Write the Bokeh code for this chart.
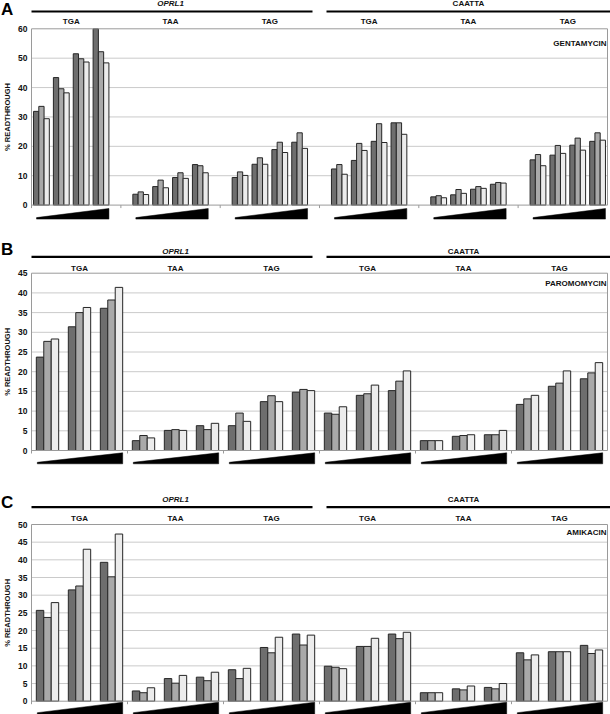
import math
from bokeh.plotting import figure
from bokeh.layouts import column
from bokeh.models import Range1d
from bokeh.core.properties import value
from bokeh.embed import file_html
from bokeh.resources import INLINE

# ---------------- data ----------------
constructs = ["OPRL1", "CAATTA"]
codons = ["TGA", "TAA", "TAG"]
drugs = ["GENTAMYCIN", "PAROMOMYCIN", "AMIKACIN"]
letters = ["A", "B", "C"]
y_title = "% READTHROUGH"

# Panel A (gentamycin): 6 groups x 4 increasing doses; three series (dark, mid, light)
gent_dark = [31.9, 43.4, 51.5, 60.0, 3.7, 6.3, 9.4, 13.8, 9.4, 13.9, 18.9, 21.4,
             12.3, 15.2, 21.7, 28.0, 2.8, 3.5, 5.4, 7.1, 15.4, 17.0, 20.4, 21.7]
gent_mid = [33.6, 39.6, 49.8, 52.2, 4.5, 8.5, 11.0, 13.4, 11.3, 16.1, 21.4, 24.6,
            13.8, 21.0, 27.7, 28.0, 3.2, 5.3, 6.3, 7.7, 17.2, 20.3, 22.8, 24.6]
gent_light = [29.4, 38.2, 48.7, 48.4, 3.6, 5.9, 9.1, 11.0, 10.1, 13.9, 17.9, 19.3,
              10.5, 18.6, 21.3, 24.1, 2.5, 4.0, 5.7, 7.5, 13.4, 17.6, 18.7, 22.1]

# Panel B (paromomycin): 6 groups x 3 doses
paro_dark = [23.7, 31.4, 36.1, 2.5, 5.1, 6.3, 6.3, 12.4, 14.8,
             9.5, 14.0, 15.2, 2.5, 3.6, 4.0, 11.7, 16.3, 18.2]
paro_mid = [27.7, 35.0, 38.2, 3.8, 5.3, 5.3, 9.5, 13.9, 15.5,
            9.2, 14.4, 17.6, 2.5, 3.8, 4.0, 13.1, 17.1, 19.7]
paro_light = [28.3, 36.3, 41.4, 3.2, 5.1, 6.9, 7.4, 12.4, 15.2,
              11.1, 16.6, 20.2, 2.5, 4.0, 5.1, 14.0, 20.2, 22.3]

# Panel C (amikacin): 6 groups x 3 doses
amik_dark = [25.7, 31.5, 39.3, 2.9, 6.4, 6.8, 8.9, 15.2, 19.0,
             9.9, 15.5, 19.0, 2.4, 3.5, 3.9, 13.7, 14.0, 15.8]
amik_mid = [23.7, 32.6, 35.2, 2.4, 5.1, 5.8, 6.4, 13.7, 15.9,
            9.6, 15.5, 17.7, 2.4, 3.2, 3.5, 11.7, 14.0, 13.5]
amik_light = [27.9, 43.0, 47.3, 3.8, 7.3, 8.2, 9.3, 18.1, 18.7,
              9.2, 17.8, 19.5, 2.4, 4.3, 5.0, 13.1, 14.0, 14.5]

y_max = [60, 45, 50]
y_step = [10, 5, 5]

# ---------------- style ----------------
FONT = "Liberation Sans"
COLORS = ["#6e6e6e", "#a9a9a9", "#ececec"]
OUTLINE = "#262626"
GRID = "#cacaca"
BORDER = "#9a9a9a"
INK = "#111111"
W = 610
AXIS_X = 31        # px from canvas left to y axis
RIGHT_X = 607      # px from canvas left to right border
PLOT_W = RIGHT_X - AXIS_X


def make_panel(idx, series, n_conc, gap, fig_h, top_off, plot_h, hdr, drug_off,
               bar_w, wedge_px, bar_px_off):
    ymax, step = y_max[idx], y_step[idx]
    ncat = 6 * n_conc + gap * 5
    ppc = PLOT_W / ncat
    s = plot_h / ymax
    px = lambda v: v / s          # px -> y data units
    pxx = lambda v: v / ppc       # px -> x data units

    p = figure(width=W, height=fig_h, output_backend="svg", toolbar_location=None,
               x_range=Range1d(-pxx(AXIS_X), ncat + pxx(W - RIGHT_X)),
               y_range=Range1d(-px(fig_h - top_off - plot_h), ymax + px(top_off)),
               x_axis_type=None, y_axis_type=None, title=None,
               min_border_left=0, min_border_right=0,
               min_border_top=0, min_border_bottom=0)
    p.outline_line_color = None
    p.xgrid.visible = False
    p.ygrid.visible = False

    ticks = list(range(0, ymax + 1, step))
    txt = dict(text_font=value(FONT), text_font_style="bold", text_font_size="8px",
               text_color=INK, text_baseline="middle")

    # gridlines
    gl = ticks[1:-1]
    p.segment(x0=[0] * len(gl), x1=[ncat] * len(gl), y0=gl, y1=gl,
              line_color=GRID, line_width=1)

    # bars
    pitch = n_conc + gap
    for k, vals in enumerate(series):
        xs = [g * pitch + c + 0.5 + (k - 1) * bar_w
              for g in range(6) for c in range(n_conc)]
        p.vbar(x=xs, top=vals, bottom=0, width=bar_w, fill_color=COLORS[k],
               line_color=OUTLINE, line_width=1)

    # frame lines
    p.segment(x0=[0, 0, ncat], x1=[ncat, ncat, ncat], y0=[0, ymax, 0],
              y1=[0, ymax, ymax], line_color=BORDER, line_width=1)
    p.segment(x0=[0], x1=[0], y0=[-px(3)], y1=[ymax], line_color=BORDER, line_width=1)
    seps = [g * pitch - gap * 0.5 for g in range(1, 6)]
    p.segment(x0=seps, x1=seps, y0=[0] * 5, y1=[-px(3)] * 5,
              line_color=BORDER, line_width=1)

    # y tick labels
    p.text(x=[-pxx(4)] * len(ticks), y=ticks, text=[str(t) for t in ticks],
           text_align="right", **dict(txt, text_font_size="8.5px"))

    # dose wedges
    wt, wb = wedge_px
    xs_list, ys_list = [], []
    for g in range(6):
        left = g * pitch + 0.5 - 1.5 * bar_w + pxx(bar_px_off)
        right = g * pitch + n_conc - 0.5 + 1.5 * bar_w
        xs_list.append([left, left, right, right])
        ys_list.append([-px(wb), -px(wb - 1.5), -px(wt), -px(wb)])
    p.patches(xs=xs_list, ys=ys_list, fill_color="black", line_color="black",
              line_width=0.5)

    # header
    text_y, line_y, cod_y, letter_y = hdr
    half = ncat / 2
    p.segment(x0=[0, half + pxx(7)], x1=[half - pxx(7), ncat + pxx(W - RIGHT_X)],
              y0=[ymax + px(line_y)] * 2, y1=[ymax + px(line_y)] * 2,
              line_color="black", line_width=2.2)
    centers = [g * pitch + n_conc / 2 for g in range(6)]
    p.text(x=[centers[1]], y=[ymax + px(text_y)], text=[constructs[0]],
           text_align="center", **dict(txt, text_font_style="bold italic"))
    p.text(x=[centers[4]], y=[ymax + px(text_y)], text=[constructs[1]],
           text_align="center", **txt)
    p.text(x=centers, y=[ymax + px(cod_y)] * 6, text=codons * 2,
           text_align="center", **txt)
    p.text(x=[ncat - pxx(1)], y=[ymax - px(drug_off)], text=[drugs[idx]],
           text_align="right", **txt)

    # panel letter and y-axis title
    p.text(x=[-pxx(AXIS_X - 0.5)], y=[ymax + px(letter_y)], text=[letters[idx]],
           text_align="left", **dict(txt, text_font_size="17px", text_color="black"))
    p.text(x=[-pxx(AXIS_X - 7)], y=[ymax / 2], text=[y_title], angle=math.pi / 2,
           text_align="center", **dict(txt, text_font_size="7.5px"))
    return p


pA = make_panel(0, [gent_dark, gent_mid, gent_light], 4, 1, 236, 28.3, 176.3,
                (25.0, 17.3, 7.6, 19.1), 15.0, 0.265, (3.4, 14.0), 3)
pB = make_panel(1, [paro_dark, paro_mid, paro_light], 3, 0, 252, 36.7, 177.3,
                (22.0, 16.4, 5.0, 23.7), 10.6, 0.233, (2.3, 13.3), 1)
pC = make_panel(2, [amik_dark, amik_mid, amik_light], 3, 0, 226, 36.0, 176.7,
                (25.0, 17.3, 6.3, 22.5), 8.3, 0.233, (1.0, 13.0), 1)

layout = column(pA, pB, pC, spacing=0)
open("out.html", "w").write(file_html(layout, INLINE))
